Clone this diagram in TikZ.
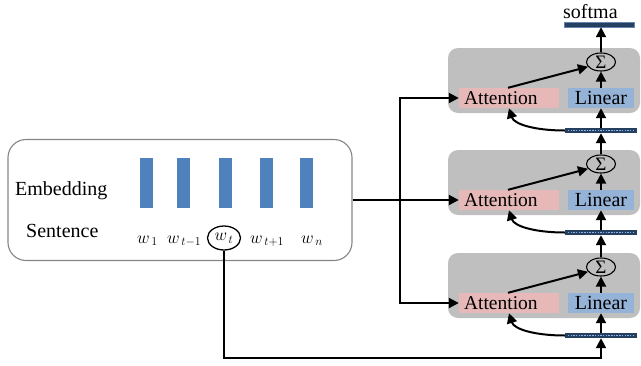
\documentclass[tikz,border=0pt]{standalone}
\usepackage{fontspec}
\setmainfont{Liberation Serif}
\usetikzlibrary{arrows.meta,shapes.geometric}
\definecolor{attpink}{HTML}{E6B9B8}
\definecolor{linblue}{HTML}{95B3D7}
\definecolor{modgray}{HTML}{BFBFBF}
\definecolor{embblue}{HTML}{4F81BD}
\definecolor{bardark}{HTML}{243F60}
\definecolor{bardot}{HTML}{8DB3E2}
\definecolor{frame}{HTML}{858585}
\begin{document}
\begin{tikzpicture}[x=1pt,y=-1pt,
  arr/.style={line width=2pt,-{Triangle[length=10pt,width=10pt]}},
  module/.style={fill=modgray,rounded corners=10pt,minimum width=192pt,minimum height=65pt,inner sep=0pt},
  attbox/.style={fill=attpink,minimum height=20pt,text width=90pt,align=left,inner xsep=5pt,inner ysep=0pt,font=\fontsize{19.5}{20}\selectfont},
  linbox/.style={fill=linblue,minimum width=66pt,minimum height=20pt,inner sep=0pt,font=\fontsize{20}{20}\selectfont},
  sumnode/.style={ellipse,draw,line width=1.1pt,minimum width=29pt,minimum height=18pt,inner sep=0pt,font=\fontsize{19}{19}\selectfont},
  seqbar/.style={fill=bardark,minimum width=72pt,minimum height=5pt,inner sep=0pt},
  embbar/.style={fill=embblue,minimum width=13pt,minimum height=50pt,inner sep=0pt},
  word/.style={anchor=base west,inner sep=0pt,font=\fontsize{18}{20}\selectfont},
  lbl/.style={anchor=base west,inner sep=0pt,font=\fontsize{20}{22}\selectfont}]
\useasboundingbox (0,0) rectangle (641,365);

% input sentence and embedding panel
\node[draw=frame,line width=1.1pt,rounded corners=18pt,minimum width=344pt,minimum height=121pt] (emb) at (180,200) {};
\node[lbl] (embtxt) at (15,195) {Embedding};
\node[lbl] (senttxt) at (26,237) {Sentence};
\foreach \n/\x in {e1/146,e2/183,e3/225,e4/266,e5/306}
  \node[embbar] (\n) at (\x,183) {};
\node[word] (w1) at (137,243) {$w_{\,1}$};
\node[word] (wtm) at (167,243) {$w_{\,t-1}$};
\node[ellipse,draw,line width=1.3pt,minimum width=33pt,minimum height=24pt,inner sep=0pt,font=\fontsize{18}{20}\selectfont] (wt) at (224,238) {$w_{\,t}$};
\node[word] (wtp) at (250,243) {$w_{\,t+1}$};
\node[word] (wn) at (301,243) {$w_{\,n}$};

% stacked attention modules
\foreach \i/\yo in {1/48,2/150,3/253}{
  \node[module] (mod\i) at (544,{\yo+32.5}) {};
  \node[attbox] (att\i) at (509,{\yo+50}) {Attention};
  \node[linbox] (lin\i) at (601,{\yo+50}) {Linear};
  \node[sumnode] (sig\i) at (601,{\yo+14}) {Σ};
  \node[seqbar] (bar\i) at (601,{\yo+82.5}) {};
  \draw[bardot,line width=1pt,dash pattern=on 1.5pt off 1.2pt] ([xshift=3pt]bar\i.west) -- ([xshift=-3pt]bar\i.east);
  \draw[arr] (bar\i.north) -- (lin\i.south);
  \draw[arr] (lin\i.north) -- (sig\i.south);
  \draw[arr] ([xshift=-1pt]att\i.north) -- (sig\i.200);
  \draw[arr] (bar\i.west) .. controls +(-30,0) and +(5,16) .. (att\i.south);
}

% output layer
\node[seqbar,minimum width=70pt,draw=bardot!60!bardark,line width=0.4pt] (soft) at (599,24.5) {};
\node[anchor=base west,inner sep=0pt,font=\fontsize{20}{20}\selectfont] (softtxt) at (563,18) {softma};

\draw[arr] (sig1.north) -- (sig1.north |- soft.south);
\draw[arr] (sig2.north) -- (bar1.south);
\draw[arr] (sig3.north) -- (bar2.south);

% embedding feeds every attention block
\coordinate (split) at (400,200);
\draw[arr] (emb.east) -- (att2.west);
\draw[arr] (split) |- (att1.west);
\draw[arr] (split) |- (att3.west);

% target word goes to the first sequence bar
\coordinate (low) at (0,358);
\draw[arr] (wt.south) -- (wt.south |- low) -| (bar3.south);
\end{tikzpicture}
\end{document}
